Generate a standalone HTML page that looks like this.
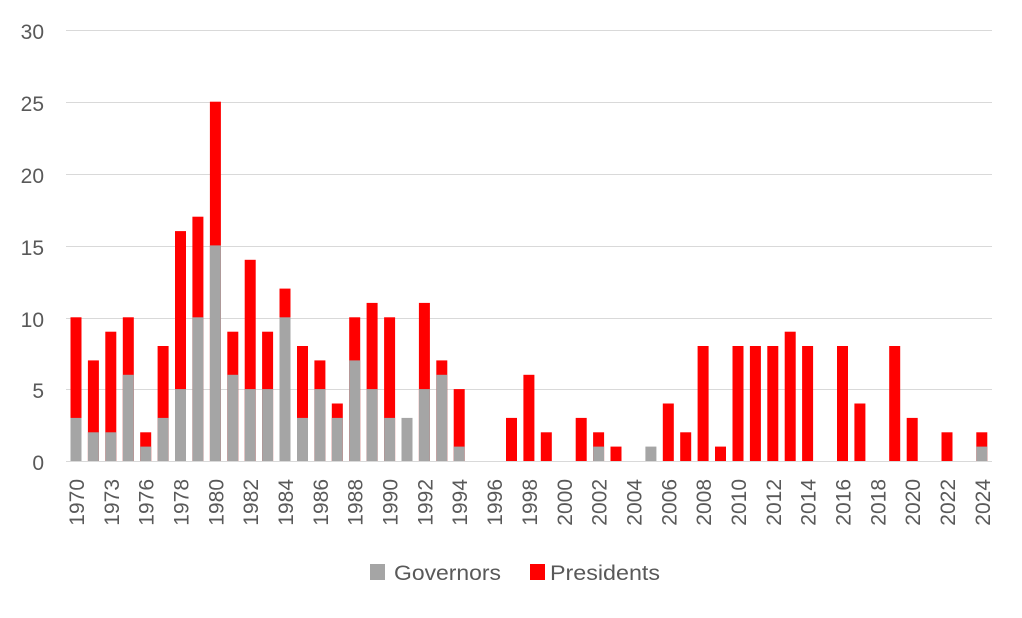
<!DOCTYPE html>
<html><head><meta charset="utf-8"><style>
html,body{margin:0;padding:0;background:#fff;}
svg text{font-family:"Liberation Sans",sans-serif;fill:#595959;}
</style></head><body>
<svg width="1022" height="613" xmlns="http://www.w3.org/2000/svg">
<g stroke="#d9d9d9" stroke-width="1">
<line x1="66" y1="30.5" x2="992" y2="30.5"/>
<line x1="66" y1="102.5" x2="992" y2="102.5"/>
<line x1="66" y1="174.5" x2="992" y2="174.5"/>
<line x1="66" y1="246.5" x2="992" y2="246.5"/>
<line x1="66" y1="318.5" x2="992" y2="318.5"/>
<line x1="66" y1="389.5" x2="992" y2="389.5"/>
<line x1="66" y1="461.5" x2="992" y2="461.5"/>
</g>
<g font-size="21" text-anchor="end">
<text x="44" y="39">30</text><text x="44" y="111">25</text><text x="44" y="183">20</text>
<text x="44" y="255">15</text><text x="44" y="327">10</text><text x="44" y="398">5</text><text x="44" y="470">0</text>
</g>
<g fill="#ff0000">
<rect x="70.5" y="317.3" width="11" height="143.7"/>
<rect x="87.9" y="360.4" width="11" height="100.6"/>
<rect x="105.3" y="331.7" width="11" height="129.3"/>
<rect x="122.8" y="317.3" width="11" height="143.7"/>
<rect x="140.2" y="432.3" width="11" height="28.7"/>
<rect x="157.6" y="346.0" width="11" height="115.0"/>
<rect x="175.0" y="231.1" width="11" height="229.9"/>
<rect x="192.4" y="216.7" width="11" height="244.3"/>
<rect x="209.9" y="101.7" width="11" height="359.3"/>
<rect x="227.3" y="331.7" width="11" height="129.3"/>
<rect x="244.7" y="259.8" width="11" height="201.2"/>
<rect x="262.1" y="331.7" width="11" height="129.3"/>
<rect x="279.5" y="288.6" width="11" height="172.4"/>
<rect x="297.0" y="346.0" width="11" height="115.0"/>
<rect x="314.4" y="360.4" width="11" height="100.6"/>
<rect x="331.8" y="403.5" width="11" height="57.5"/>
<rect x="349.2" y="317.3" width="11" height="143.7"/>
<rect x="366.6" y="302.9" width="11" height="158.1"/>
<rect x="384.1" y="317.3" width="11" height="143.7"/>
<rect x="418.9" y="302.9" width="11" height="158.1"/>
<rect x="436.3" y="360.4" width="11" height="100.6"/>
<rect x="453.7" y="389.1" width="11" height="71.9"/>
<rect x="506.0" y="417.9" width="11" height="43.1"/>
<rect x="523.4" y="374.8" width="11" height="86.2"/>
<rect x="540.8" y="432.3" width="11" height="28.7"/>
<rect x="575.7" y="417.9" width="11" height="43.1"/>
<rect x="593.1" y="432.3" width="11" height="28.7"/>
<rect x="610.5" y="446.6" width="11" height="14.4"/>
<rect x="662.8" y="403.5" width="11" height="57.5"/>
<rect x="680.2" y="432.3" width="11" height="28.7"/>
<rect x="697.6" y="346.0" width="11" height="115.0"/>
<rect x="715.0" y="446.6" width="11" height="14.4"/>
<rect x="732.5" y="346.0" width="11" height="115.0"/>
<rect x="749.9" y="346.0" width="11" height="115.0"/>
<rect x="767.3" y="346.0" width="11" height="115.0"/>
<rect x="784.7" y="331.7" width="11" height="129.3"/>
<rect x="802.1" y="346.0" width="11" height="115.0"/>
<rect x="837.0" y="346.0" width="11" height="115.0"/>
<rect x="854.4" y="403.5" width="11" height="57.5"/>
<rect x="889.2" y="346.0" width="11" height="115.0"/>
<rect x="906.7" y="417.9" width="11" height="43.1"/>
<rect x="941.5" y="432.3" width="11" height="28.7"/>
<rect x="976.3" y="432.3" width="11" height="28.7"/>
</g>
<g fill="#a5a5a5">
<rect x="70.5" y="417.9" width="11" height="43.1"/>
<rect x="87.9" y="432.3" width="11" height="28.7"/>
<rect x="105.3" y="432.3" width="11" height="28.7"/>
<rect x="122.8" y="374.8" width="11" height="86.2"/>
<rect x="140.2" y="446.6" width="11" height="14.4"/>
<rect x="157.6" y="417.9" width="11" height="43.1"/>
<rect x="175.0" y="389.1" width="11" height="71.9"/>
<rect x="192.4" y="317.3" width="11" height="143.7"/>
<rect x="209.9" y="245.4" width="11" height="215.6"/>
<rect x="227.3" y="374.8" width="11" height="86.2"/>
<rect x="244.7" y="389.1" width="11" height="71.9"/>
<rect x="262.1" y="389.1" width="11" height="71.9"/>
<rect x="279.5" y="317.3" width="11" height="143.7"/>
<rect x="297.0" y="417.9" width="11" height="43.1"/>
<rect x="314.4" y="389.1" width="11" height="71.9"/>
<rect x="331.8" y="417.9" width="11" height="43.1"/>
<rect x="349.2" y="360.4" width="11" height="100.6"/>
<rect x="366.6" y="389.1" width="11" height="71.9"/>
<rect x="384.1" y="417.9" width="11" height="43.1"/>
<rect x="401.5" y="417.9" width="11" height="43.1"/>
<rect x="418.9" y="389.1" width="11" height="71.9"/>
<rect x="436.3" y="374.8" width="11" height="86.2"/>
<rect x="453.7" y="446.6" width="11" height="14.4"/>
<rect x="593.1" y="446.6" width="11" height="14.4"/>
<rect x="645.4" y="446.6" width="11" height="14.4"/>
<rect x="976.3" y="446.6" width="11" height="14.4"/>
</g>
<g font-size="21" text-anchor="end">
<text transform="translate(84,479) rotate(-90)">1970</text>
<text transform="translate(118.8,479) rotate(-90)">1973</text>
<text transform="translate(153.7,479) rotate(-90)">1976</text>
<text transform="translate(188.5,479) rotate(-90)">1978</text>
<text transform="translate(223.4,479) rotate(-90)">1980</text>
<text transform="translate(258.2,479) rotate(-90)">1982</text>
<text transform="translate(293.0,479) rotate(-90)">1984</text>
<text transform="translate(327.9,479) rotate(-90)">1986</text>
<text transform="translate(362.7,479) rotate(-90)">1988</text>
<text transform="translate(397.6,479) rotate(-90)">1990</text>
<text transform="translate(432.4,479) rotate(-90)">1992</text>
<text transform="translate(467.2,479) rotate(-90)">1994</text>
<text transform="translate(502.1,479) rotate(-90)">1996</text>
<text transform="translate(536.9,479) rotate(-90)">1998</text>
<text transform="translate(571.8,479) rotate(-90)">2000</text>
<text transform="translate(606.6,479) rotate(-90)">2002</text>
<text transform="translate(641.4,479) rotate(-90)">2004</text>
<text transform="translate(676.3,479) rotate(-90)">2006</text>
<text transform="translate(711.1,479) rotate(-90)">2008</text>
<text transform="translate(746.0,479) rotate(-90)">2010</text>
<text transform="translate(780.8,479) rotate(-90)">2012</text>
<text transform="translate(815.6,479) rotate(-90)">2014</text>
<text transform="translate(850.5,479) rotate(-90)">2016</text>
<text transform="translate(885.3,479) rotate(-90)">2018</text>
<text transform="translate(920.2,479) rotate(-90)">2020</text>
<text transform="translate(955.0,479) rotate(-90)">2022</text>
<text transform="translate(989.8,479) rotate(-90)">2024</text>
</g>
<rect x="370" y="564" width="15" height="16" fill="#a5a5a5"/>
<text x="394" y="580" font-size="21" textLength="107" lengthAdjust="spacingAndGlyphs">Governors</text>
<rect x="530" y="564" width="15" height="16" fill="#ff0000"/>
<text x="550" y="580" font-size="21" textLength="110" lengthAdjust="spacingAndGlyphs">Presidents</text>
</svg>
</body></html>
